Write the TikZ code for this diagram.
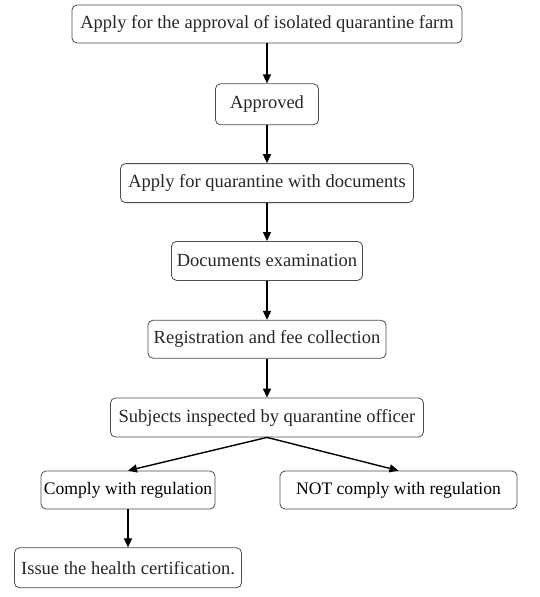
\documentclass[tikz,border=0pt]{standalone}
\usepackage{fontspec}
\setmainfont{Liberation Serif}
\usetikzlibrary{arrows.meta,positioning}

\begin{document}
\begin{tikzpicture}[x=1pt,y=-1pt,->,>={Triangle[length=9pt,width=8pt]},line width=1.4pt,node distance=39pt]
	\tikzstyle{box}=[draw=black!70,line width=0.8pt,rounded corners=5pt,minimum height=39pt,inner sep=2pt,text=black!85,font=\fontsize{18.5}{22}\selectfont]
	\tikzstyle{choice}=[box,text=black,font=\fontsize{17.6}{21}\selectfont]
	\useasboundingbox (0,0) rectangle (539,597);

	\node[box,minimum width=390pt,minimum height=38pt] (farm) at (267,24) {Apply for the approval of isolated quarantine farm};
	\node[box,minimum width=103pt,minimum height=41pt] (appr) [below = 40pt of farm] {Approved};
	\node[box,minimum width=293pt] (apply) [below = 38pt of appr] {Apply for quarantine with documents};
	\node[box,minimum width=191pt] (exam) [below = 38pt of apply] {Documents examination};
	\node[box,minimum width=238pt,minimum height=38pt] (fee) [below = 39pt of exam] {Registration and fee collection};
	\node[box,minimum width=313pt] (subj) [below = 39pt of fee] {Subjects inspected by quarantine officer};
	\node[choice,minimum width=174pt,minimum height=38pt] (comply) at (128,490) {Comply with regulation};
	\node[choice,minimum width=237pt,minimum height=38pt] (notcomply) at (398.5,490) {NOT comply with regulation};
	\node[box,minimum width=227pt,minimum height=40pt] (issue) [below = 38pt of comply] {Issue the health certification.};

	\path (farm) edge (appr);
	\path (appr) edge (apply);
	\path (apply) edge (exam);
	\path (exam) edge (fee);
	\path (fee) edge (subj);
	\draw (subj.south) -- (comply.north);
	\draw (subj.south) -- (notcomply.north);
	\path (comply) edge (issue);
\end{tikzpicture}
\end{document}
